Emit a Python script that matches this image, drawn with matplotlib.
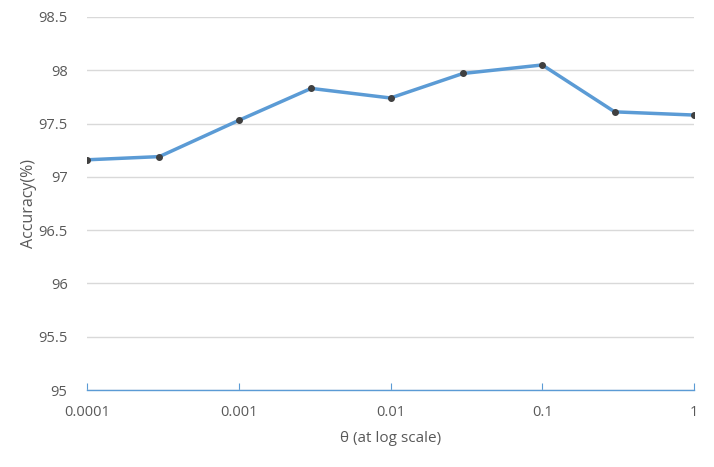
import numpy as np
from matplotlib import pyplot as plt
from matplotlib.ticker import FixedLocator, NullLocator

# dane
theta = [0.0001, 0.0003, 0.001, 0.003, 0.01, 0.03, 0.1, 0.3, 1]
accuracy = [97.16, 97.19, 97.53, 97.83, 97.74, 97.97, 98.05, 97.61, 97.58]
x_ticks = [0.0001, 0.001, 0.01, 0.1, 1]
x_tick_labels = ["0.0001", "0.001", "0.01", "0.1", "1"]
y_ticks = [95, 95.5, 96, 96.5, 97, 97.5, 98, 98.5]
y_tick_labels = ["95", "95.5", "96", "96.5", "97", "97.5", "98", "98.5"]

plt.rcParams['font.family'] = ['Open Sans', 'DejaVu Sans']
txt = "#595959"

fig = plt.figure(figsize=(7.14, 4.67), dpi=100)
ax = fig.add_axes([87/714, 1 - 390/467, (694 - 87)/714, (390 - 17)/467])

ax.plot(theta, accuracy, c="#5b9bd5", lw=2.5, marker="o", ms=4,
        mfc="#404040", mec="#404040", zorder=3)

ax.set_xscale("log")
ax.set_xlim(0.0001, 1)
ax.set_ylim(95, 98.5)
ax.xaxis.set_major_locator(FixedLocator(x_ticks))
ax.xaxis.set_minor_locator(NullLocator())
ax.set_xticks(x_ticks)
ax.set_xticklabels(x_tick_labels)
ax.set_yticks(y_ticks)
ax.set_yticklabels(y_tick_labels)

ax.grid(axis="y", color="#d9d9d9", lw=1)
ax.set_axisbelow(True)
for s in ["left", "right", "top"]:
    ax.spines[s].set_visible(False)
ax.spines["bottom"].set_color("#5b9bd5")
ax.spines["bottom"].set_linewidth(1)

ax.tick_params(axis="x", direction="in", length=5, color="#5b9bd5",
               labelcolor=txt, labelsize=10.5, pad=11)
ax.tick_params(axis="y", length=0, labelcolor=txt, labelsize=10.5, pad=14)

ax.set_xlabel("θ (at log scale)", color=txt, fontsize=11, labelpad=8)
ax.set_ylabel("Accuracy(%)", color=txt, fontsize=11.5)
ax.yaxis.set_label_coords(-0.082, 0.5)

fig.savefig("out.png", dpi=100)
